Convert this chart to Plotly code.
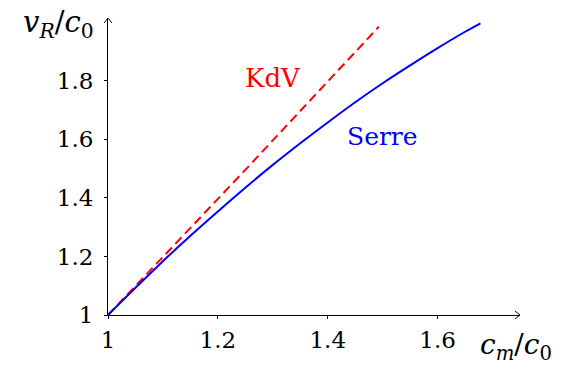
import plotly.graph_objects as go

# Data
serre_x = [1.0, 1.05, 1.10, 1.15, 1.20, 1.25, 1.30, 1.35, 1.40, 1.45, 1.50, 1.55, 1.60, 1.65, 1.678]
serre_y = [1.0, 1.093, 1.184, 1.271, 1.354, 1.435, 1.513, 1.587, 1.658, 1.727, 1.792, 1.853, 1.912, 1.968, 1.997]
kdv_x = [1.0, 1.25, 1.493]
kdv_y = [1.0, 1.496, 1.985]

x_ticks = [1.0, 1.2, 1.4, 1.6]
x_tick_labels = ["1", "1.2", "1.4", "1.6"]
y_ticks = [1.0, 1.2, 1.4, 1.6, 1.8]
y_tick_labels = ["1", "1.2", "1.4", "1.6", "1.8"]

FONT = "DejaVu Serif"
FS = 23

fig = go.Figure()
fig.add_trace(go.Scatter(x=kdv_x, y=kdv_y, mode="lines",
                         line=dict(color="#ff0000", width=2, dash="9px,5px"),
                         showlegend=False, hoverinfo="skip"))
fig.add_trace(go.Scatter(x=serre_x, y=serre_y, mode="lines",
                         line=dict(color="#0000ff", width=2, shape="spline"),
                         showlegend=False, hoverinfo="skip"))

axis_common = dict(showgrid=False, zeroline=False, showline=True, linecolor="black",
                   linewidth=1, ticks="outside", ticklen=3, tickcolor="black",
                   tickfont=dict(family=FONT, size=FS, color="black"))

fig.update_layout(
    width=575, height=365,
    margin=dict(l=108, r=55, t=18, b=50),
    paper_bgcolor="white", plot_bgcolor="white",
    font=dict(family=FONT),
    xaxis=dict(range=[1.0, 1.75], tickvals=x_ticks, ticktext=x_tick_labels,
               ticklabelstandoff=1, **axis_common),
    yaxis=dict(range=[1.0, 2.015], tickvals=y_ticks, ticktext=y_tick_labels,
               ticklabelstandoff=6, **axis_common),
)

# arrow heads (open chevrons) at axis ends
fig.add_shape(type="path", xref="paper", yref="paper", xsizemode="pixel", ysizemode="pixel",
              xanchor=1, yanchor=0, path="M -5 4 L 0 0 L -5 -4",
              line=dict(color="black", width=1))
fig.add_shape(type="path", xref="paper", yref="paper", xsizemode="pixel", ysizemode="pixel",
              xanchor=0, yanchor=1, path="M -4 -5 L 0 0 L 4 -5",
              line=dict(color="black", width=1))

# series labels
fig.add_annotation(x=1.3, y=1.81, xref="x", yref="y", text="KdV", showarrow=False,
                   font=dict(family=FONT, size=26, color="#ff0000"))
fig.add_annotation(x=1.50, y=1.61, xref="x", yref="y", text="Serre", showarrow=False,
                   font=dict(family=FONT, size=25, color="#0000ff"))

# axis titles
fig.add_annotation(x=0, y=1, xref="paper", yref="paper",
                   text="<i>v</i><sub><i>R</i></sub>/<i>c</i><sub>0</sub>",
                   showarrow=False, xanchor="right", yanchor="middle", xshift=-12, yshift=-6,
                   font=dict(family=FONT, size=29, color="black"))
fig.add_annotation(x=1, y=0, xref="paper", yref="paper",
                   text="<i>c</i><sub><i>m</i></sub>/<i>c</i><sub>0</sub>",
                   showarrow=False, xanchor="left", yanchor="middle", xshift=-42, yshift=-31,
                   font=dict(family=FONT, size=28, color="black"))

fig.write_html("out.html")
